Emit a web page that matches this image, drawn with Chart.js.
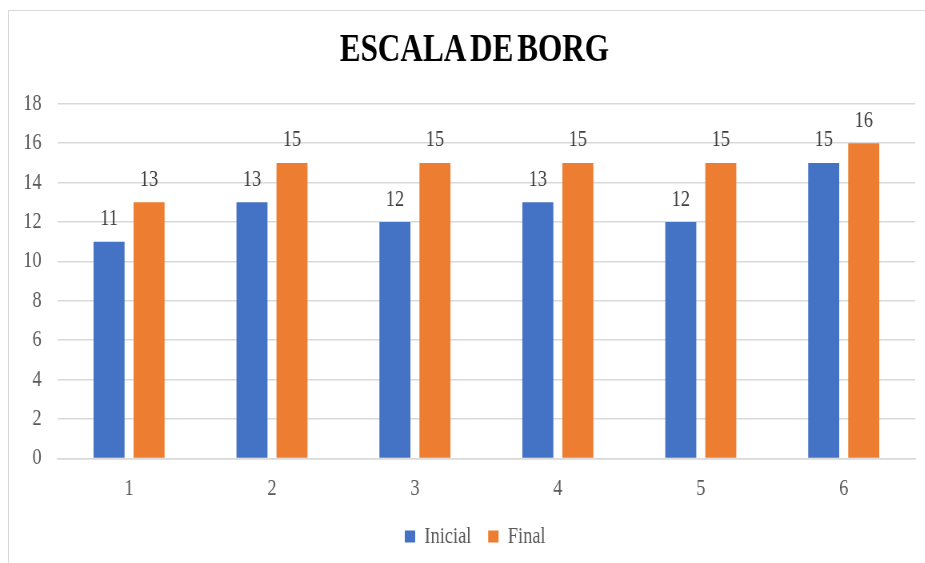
<!DOCTYPE html>
<html>
<head>
<meta charset="utf-8">
<script src="https://cdn.jsdelivr.net/npm/chart.js@4/dist/chart.umd.min.js"></script>
<style>
  html, body { margin: 0; padding: 0; background: #fff; overflow: hidden; }
  #frame { position: absolute; left: 8px; top: 10px; width: 940px; height: 580px; border: 1.5px solid #d9d9d9; box-sizing: border-box; }
  #wrap { position: absolute; left: 0; top: 0; width: 1156px; height: 563px; transform: scaleX(0.8); transform-origin: 0 0; }
</style>
</head>
<body>
<div id="frame"></div>
<div id="wrap"><canvas id="chart" width="1156" height="563"></canvas></div>
<script>
const categories = ["1", "2", "3", "4", "5", "6"];
const inicial = [11, 13, 12, 13, 12, 15];
const final = [13, 15, 15, 15, 15, 16];
const yTicks = [0, 2, 4, 6, 8, 10, 12, 14, 16, 18];

const serif = "'Liberation Serif', 'Times New Roman', serif";

// draws the value above each bar
const valueLabels = {
  id: "valueLabels",
  afterDatasetsDraw(chart) {
    const ctx = chart.ctx;
    ctx.save();
    ctx.font = `23px ${serif}`;
    ctx.fillStyle = "#404040";
    ctx.textAlign = "center";
    ctx.textBaseline = "bottom";
    chart.data.datasets.forEach((ds, i) => {
      chart.getDatasetMeta(i).data.forEach((bar, j) => {
        ctx.fillText(String(ds.data[j]), bar.x, bar.y - 11);
      });
    });
    ctx.restore();
  },
};

// the original title and legend sit a bit right of the canvas centre,
// and the legend sits closer to the axis labels than its padding allows
const shiftBoxes = {
  id: "shiftBoxes",
  afterLayout(chart) {
    const t = chart.titleBlock;
    if (t) { t.left += 21; t.right += 21; }
    const l = chart.legend;
    if (l) { l.left += 22; l.right += 22; l.top -= 16; l.bottom -= 16; }
  },
  beforeDraw(chart) {
    chart.ctx.wordSpacing = "-5px";
  },
};

new Chart(document.getElementById("chart"), {
  type: "bar",
  data: {
    labels: categories,
    datasets: [
      { label: "Inicial", data: inicial, backgroundColor: "#4472C4" },
      { label: "Final", data: final, backgroundColor: "#ED7D31" },
    ],
  },
  options: {
    responsive: false,
    animation: false,
    categoryPercentage: 0.56,
    barPercentage: 0.775,
    layout: { padding: { left: 0, right: 12, top: 28, bottom: -11 } },
    plugins: {
      title: {
        display: true,
        text: "ESCALA DE BORG",
        color: "#000",
        font: { family: serif, size: 39, weight: "bold" },
        padding: { top: 0, bottom: 29 },
      },
      legend: {
        position: "bottom",
        labels: {
          boxWidth: 13,
          boxHeight: 12,
          color: "#595959",
          font: { family: serif, size: 23 },
          padding: 21,
        },
      },
      tooltip: { enabled: false },
    },
    scales: {
      x: {
        grid: { display: false, drawTicks: false },
        border: { color: "#d9d9d9", width: 1.5 },
        ticks: { color: "#595959", font: { family: serif, size: 23 }, padding: 17 },
      },
      y: {
        min: 0,
        max: 18,
        afterBuildTicks: (scale) => {
          scale.ticks = yTicks.map((v) => ({ value: v }));
        },
        afterFit: (scale) => {
          scale.width = 72;
        },
        grid: { color: "#d9d9d9", lineWidth: 1.5, drawTicks: false },
        border: { display: false },
        ticks: { color: "#595959", font: { family: serif, size: 23 }, padding: 20 },
      },
    },
  },
  plugins: [valueLabels, shiftBoxes],
});
</script>
</body>
</html>
